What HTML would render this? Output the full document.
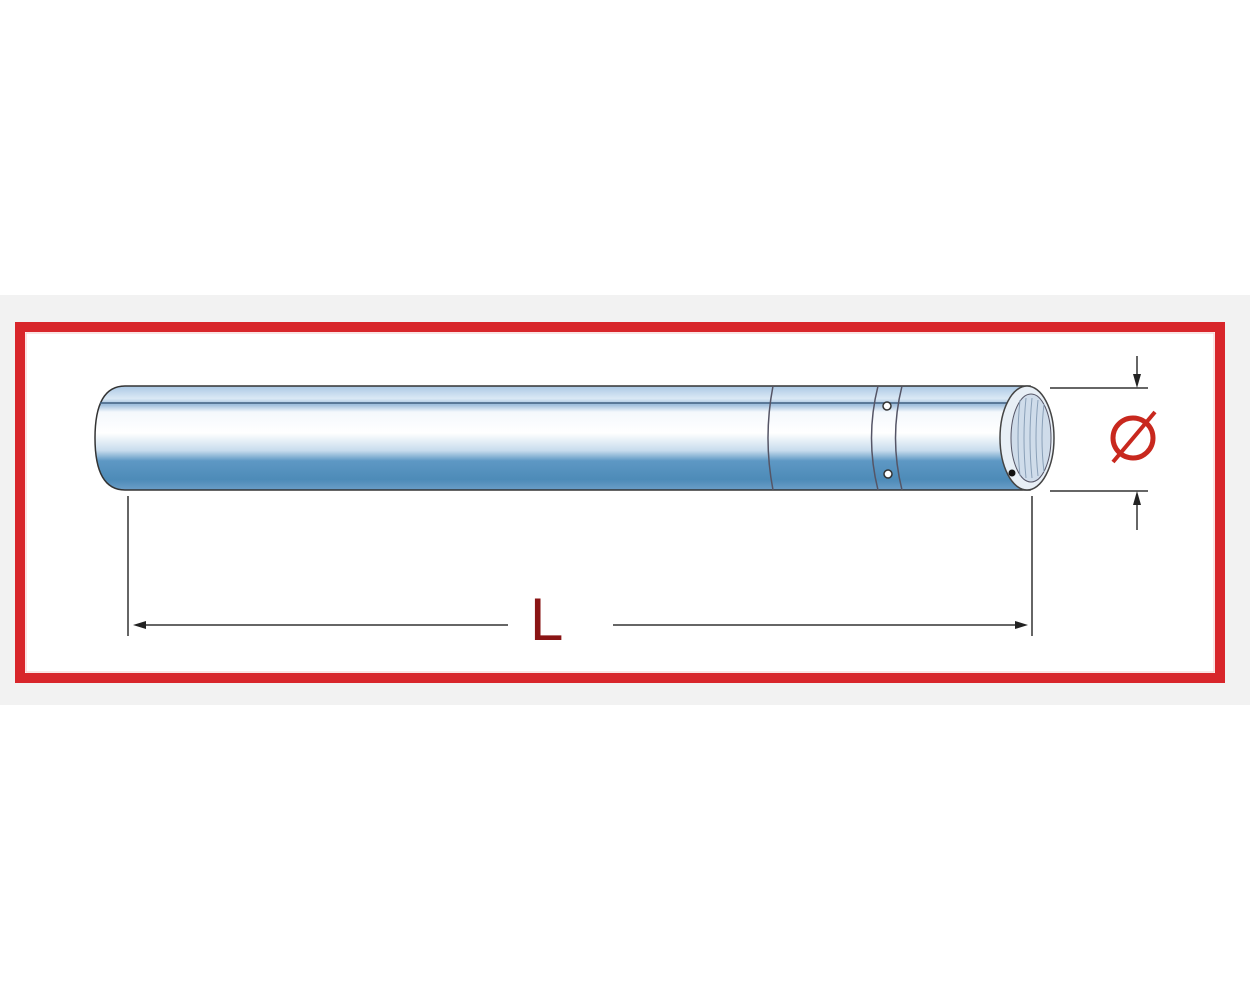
<!DOCTYPE html>
<html><head><style>
html,body{margin:0;padding:0;background:#fff;}
</style></head><body>
<svg width="1250" height="1000" viewBox="0 0 1250 1000" xmlns="http://www.w3.org/2000/svg">
<defs>
<linearGradient id="g" x1="0" y1="0" x2="0" y2="1">
<stop offset="0" stop-color="#aac8e4"/>
<stop offset="0.12" stop-color="#dbe9f5"/>
<stop offset="0.18" stop-color="#9fbedc"/>
<stop offset="0.25" stop-color="#f4f8fc"/>
<stop offset="0.45" stop-color="#ffffff"/>
<stop offset="0.62" stop-color="#c8dced"/>
<stop offset="0.72" stop-color="#5e98c4"/>
<stop offset="0.9" stop-color="#4d8bb8"/>
<stop offset="1" stop-color="#6c9ec8"/>
</linearGradient>
</defs>
<rect x="0" y="295" width="1250" height="410" fill="#f2f2f2"/>
<rect x="20" y="327" width="1200" height="351" fill="#fff" stroke="#d8262b" stroke-width="10"/>
<rect x="26" y="333" width="1188" height="339" fill="none" stroke="#f6c8c8" stroke-width="1"/>
<!-- tube -->
<path d="M125,386 L1030,386 L1030,490 L125,490 Q95,490 95,438 Q95,386 125,386 Z" fill="url(#g)" stroke="#333" stroke-width="1.5"/>
<line x1="100" y1="403" x2="1030" y2="403" stroke="#3f5f80" stroke-width="1.5"/>
<path d="M773,386 Q763,438 773,490" fill="none" stroke="#556" stroke-width="1.5"/>
<path d="M878,386 Q865,438 878,490" fill="none" stroke="#556" stroke-width="1.5"/>
<path d="M902,386 Q889,438 902,490" fill="none" stroke="#556" stroke-width="1.5"/>
<circle cx="887" cy="406" r="4" fill="#fff" stroke="#333" stroke-width="1.5"/>
<circle cx="888" cy="474" r="4" fill="#fff" stroke="#333" stroke-width="1.5"/>
<ellipse cx="1027" cy="438" rx="27" ry="52" fill="#e8eff6" stroke="#444" stroke-width="1.5"/>
<ellipse cx="1031" cy="438" rx="20" ry="44" fill="#cfdcea" stroke="#556" stroke-width="1"/>
<g stroke="#8aa0b8" stroke-width="1" fill="none">
<path d="M1020,400 Q1016,438 1020,476"/><path d="M1026,398 Q1022,438 1026,478"/>
<path d="M1032,398 Q1028,438 1032,478"/><path d="M1038,400 Q1034,438 1038,476"/>
<path d="M1044,404 Q1040,438 1044,472"/>
</g>
<circle cx="1012" cy="473" r="3.5" fill="#111"/>
<!-- dimension L -->
<g stroke="#333" stroke-width="1.5">
<line x1="128" y1="496" x2="128" y2="636"/>
<line x1="1032" y1="496" x2="1032" y2="636"/>
<line x1="140" y1="625" x2="508" y2="625"/>
<line x1="613" y1="625" x2="1020" y2="625"/>
<line x1="1050" y1="388" x2="1148" y2="388"/>
<line x1="1050" y1="491" x2="1148" y2="491"/>
<line x1="1137" y1="356" x2="1137" y2="380"/>
<line x1="1137" y1="500" x2="1137" y2="530"/>
</g>
<polygon points="133,625 146,621 146,629" fill="#222"/>
<polygon points="1028,625 1015,621 1015,629" fill="#222"/>
<polygon points="1137,388 1133,374 1141,374" fill="#222"/>
<polygon points="1137,491 1133,505 1141,505" fill="#222"/>
<text x="530" y="640" font-family="Liberation Sans, sans-serif" font-size="60" fill="#8a1515">L</text>
<circle cx="1133" cy="438" r="20" fill="none" stroke="#c8281e" stroke-width="5"/>
<line x1="1113" y1="462" x2="1155" y2="412" stroke="#c8281e" stroke-width="4"/>
</svg>
</body></html>
